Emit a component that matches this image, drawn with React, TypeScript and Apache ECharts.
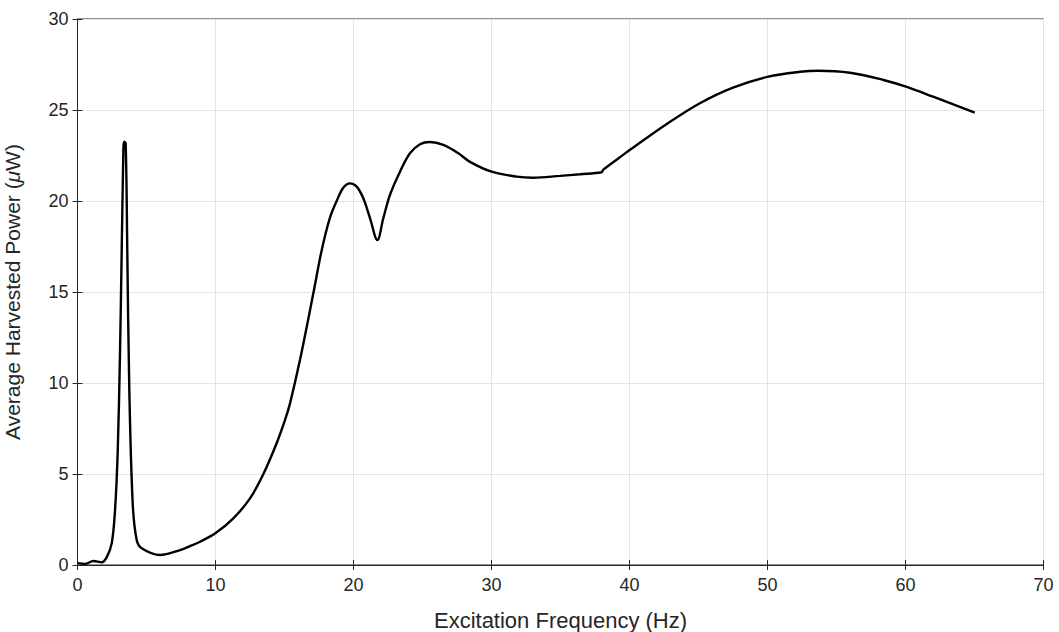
import React, { useEffect, useRef } from "react";
import * as echarts from "echarts";

const frequencyHz = [
  0, 0.54, 1.15, 1.75, 2.11, 2.48, 2.72, 2.91, 3.08, 3.2, 3.32, 3.37, 3.49, 3.61, 3.75, 4.0, 4.29, 4.65,
  5.98, 7.43, 8.15, 8.88, 9.99, 11.29, 12.5, 13.47, 14.43, 15.04, 15.4, 16.12, 17.09, 17.7, 18.3, 18.78,
  19.26, 19.75, 20.23, 20.71, 21.2, 21.73, 22.16, 22.64, 23.37, 24.09, 24.82, 25.54, 26.51, 27.6, 28.44,
  30.01, 31.83, 33.0, 34.96, 36.41, 37.98, 38.1, 39.3, 40.09, 42.7, 45.1, 47.5, 50.06, 52.36, 53.68,
  55.98, 58.4, 60.04, 62.0, 65.02,
];
const powerMicroW = [
  0.1, 0.06, 0.22, 0.15, 0.42, 1.19, 3.02, 6.14, 11.63, 17.13, 22.62, 23.26, 23.17, 17.13, 9.8, 3.39, 1.37, 0.92,
  0.55, 0.82, 1.04, 1.28, 1.74, 2.56, 3.66, 5.0, 6.69, 7.97, 8.88, 11.26, 14.93, 17.31, 19.1, 20.0,
  20.73, 20.97, 20.79, 20.15, 19.05, 17.86, 19.05, 20.33, 21.61, 22.62, 23.12, 23.24, 23.08, 22.62, 22.15,
  21.61, 21.34, 21.28, 21.38, 21.47, 21.58, 21.72, 22.4, 22.84, 24.23, 25.37, 26.23, 26.83, 27.1, 27.16,
  27.05, 26.65, 26.28, 25.73, 24.85,
];

const xTicks = [0, 70, 10];
const yTicks = [0, 30, 5];

const TXT = "#262626";
const FONT = "'Liberation Sans', Arial, Helvetica, sans-serif";

export default function App() {
  const ref = useRef<HTMLDivElement>(null);
  useEffect(() => {
    const chart = echarts.init(ref.current!, null, { renderer: "svg" });
    const data = frequencyHz.map((f, i) => [f, powerMicroW[i]]);
    chart.setOption({
      animation: false,
      backgroundColor: "#ffffff",
      textStyle: { fontFamily: FONT, color: TXT },
      grid: {
        left: 77.5, right: 15.5, top: 19, bottom: 67,
        containLabel: false, outerBoundsMode: "none",
        show: true, borderColor: TXT, borderWidth: 1, backgroundColor: "#ffffff",
      },
      xAxis: [
        {
          type: "value", min: xTicks[0], max: xTicks[1], interval: xTicks[2],
          name: "Excitation Frequency (Hz)", nameLocation: "middle", nameGap: 44,
          nameTextStyle: { fontSize: 22, color: TXT, fontFamily: FONT },
          axisLine: { show: true, lineStyle: { color: TXT, width: 1 } },
          axisTick: { show: true, inside: true, length: 5, lineStyle: { color: TXT } },
          axisLabel: { fontSize: 18, color: TXT, margin: 11, fontFamily: FONT },
          splitLine: { show: true, lineStyle: { color: "#e3e3e3", width: 1 } },
        },
        {
          type: "value", position: "top", min: xTicks[0], max: xTicks[1], interval: xTicks[2],
          axisLine: { show: false }, axisLabel: { show: false }, splitLine: { show: false },
          axisTick: { show: true, inside: true, length: 5, lineStyle: { color: TXT } },
        },
      ],
      yAxis: [
        {
          type: "value", min: yTicks[0], max: yTicks[1], interval: yTicks[2],
          name: "Average Harvested Power ({mu|μ}W)", nameLocation: "middle", nameGap: 55,
          nameTextStyle: {
            fontSize: 21, color: TXT, fontFamily: FONT,
            rich: { mu: { fontSize: 21, fontStyle: "italic", color: TXT, fontFamily: FONT } },
          },
          axisLine: { show: true, lineStyle: { color: TXT, width: 1 } },
          axisTick: { show: true, inside: true, length: 5, lineStyle: { color: TXT } },
          axisLabel: { fontSize: 18, color: TXT, margin: 9, fontFamily: FONT },
          splitLine: { show: true, lineStyle: { color: "#e3e3e3", width: 1 } },
        },
        {
          type: "value", position: "right", min: yTicks[0], max: yTicks[1], interval: yTicks[2],
          axisLine: { show: false }, axisLabel: { show: false }, splitLine: { show: false },
          axisTick: { show: true, inside: true, length: 5, lineStyle: { color: TXT } },
        },
      ],
      series: [
        {
          type: "line", data, xAxisIndex: 0, yAxisIndex: 0,
          showSymbol: false, smooth: 0.35,
          lineStyle: { color: "#000000", width: 2.4 },
        },
      ],
    });
    return () => chart.dispose();
  }, []);
  return <div ref={ref} style={{ width: 1059, height: 632, position: "absolute", left: 0, top: 0 }} />;
}
